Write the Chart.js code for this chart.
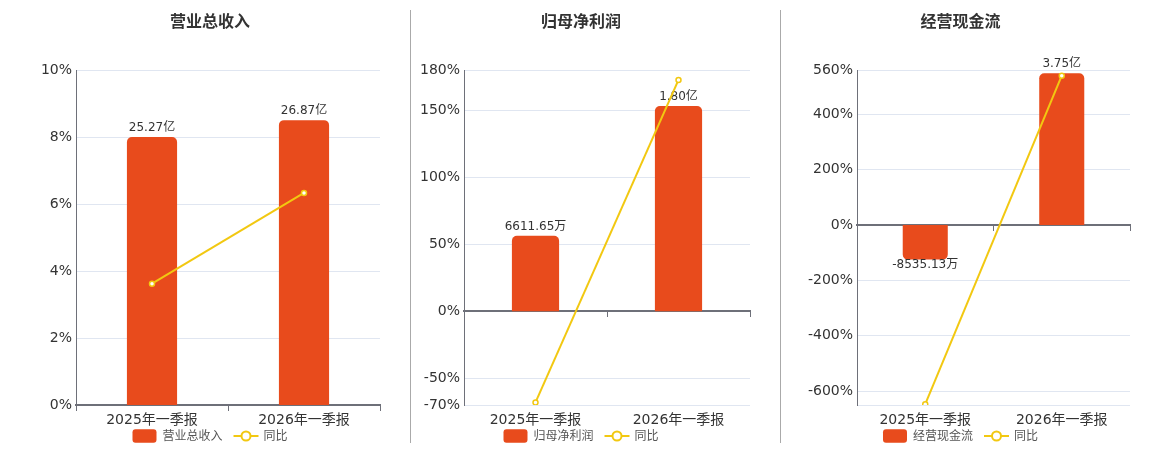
<!DOCTYPE html>
<html>
<head>
    <title>一季报</title>
    <meta charset="UTF-8">
    <script src="https://cdn.jsdelivr.net/npm/chart.js@4.4.1/dist/chart.umd.min.js"></script>
    <style>
        body { margin: 0; background: #fff; }
        #wrap { position: relative; width: 1160px; height: 450px; }
        canvas { position: absolute; top: 0; }
        .sep { position: absolute; top: 10px; width: 1px; height: 433px; background: #aaa; }
    </style>
</head>
<body>
<div id="wrap">
    <canvas id="c1" width="420" height="450" style="left:0px"></canvas>
    <canvas id="c2" width="342" height="450" style="left:410px"></canvas>
    <canvas id="c3" width="361" height="450" style="left:780px"></canvas>
    <div class="sep" style="left:410px"></div>
    <div class="sep" style="left:780px"></div>
</div>
<script>
    // 报告期
    const periods = ['2025年一季报', '2026年一季报'];

    // 营业总收入 (亿) 与同比 (%)
    const revenueValues = [25.27, 26.87];
    const revenueYoy = [3.62, 6.33];
    const revenueTicks = [0, 2, 4, 6, 8, 10];

    // 归母净利润 (亿) 与同比 (%)
    const profitValues = [0.661165, 1.80];
    const profitYoy = [-68.1, 172.6];
    const profitTicks = [-70, -50, 0, 50, 100, 150, 180];

    // 经营现金流 (亿) 与同比 (%)
    const cashValues = [-0.853513, 3.75];
    const cashYoy = [-647, 539.5];
    const cashTicks = [-600, -400, -200, 0, 200, 400, 560];

    const FONT = "'DejaVu Sans', 'Noto Sans CJK SC', sans-serif";
    const BAR = '#e84b1c';
    const LINE = '#f2c811';
    const AXIS = '#6e7079';

    Chart.defaults.font.family = FONT;

    function fmtMoney(v) {
        if (Math.abs(v) >= 1) return v.toFixed(2) + '亿';
        return (v * 10000).toFixed(2) + '万';
    }

    const barLabels = {
        id: 'barLabels',
        afterDatasetDraw(chart, args) {
            if (args.index !== 0) return;
            const ctx = chart.ctx;
            const data = chart.data.datasets[0].data;
            ctx.save();
            ctx.font = '12px ' + FONT;
            ctx.fillStyle = '#333';
            ctx.textAlign = 'center';
            ctx.textBaseline = 'middle';
            args.meta.data.forEach(function (el, i) {
                const v = data[i];
                const y = v >= 0 ? el.y - 9 : el.y + 5;
                ctx.fillText(fmtMoney(v), el.x, y);
            });
            ctx.restore();
        }
    };

    const bottomLegend = {
        id: 'bottomLegend',
        afterDraw(chart) {
            const ctx = chart.ctx;
            const name = chart.data.datasets[0].label;
            const name2 = chart.data.datasets[1].label;
            const y = 436;
            ctx.save();
            ctx.font = '12px ' + FONT;
            const w1 = ctx.measureText(name).width;
            const w2 = ctx.measureText(name2).width;
            const total = 24 + 6 + w1 + 11 + 25 + 5 + w2;
            let x = (chart.width - total) / 2;

            // 柱子图例
            const r = 3, bw = 24, bh = 13.4, by = y - bh / 2;
            ctx.beginPath();
            ctx.moveTo(x + r, by);
            ctx.lineTo(x + bw - r, by);
            ctx.arcTo(x + bw, by, x + bw, by + r, r);
            ctx.lineTo(x + bw, by + bh - r);
            ctx.arcTo(x + bw, by + bh, x + bw - r, by + bh, r);
            ctx.lineTo(x + r, by + bh);
            ctx.arcTo(x, by + bh, x, by + bh - r, r);
            ctx.lineTo(x, by + r);
            ctx.arcTo(x, by, x + r, by, r);
            ctx.closePath();
            ctx.fillStyle = BAR;
            ctx.fill();

            ctx.fillStyle = '#555';
            ctx.textBaseline = 'middle';
            ctx.textAlign = 'left';
            ctx.fillText(name, x + 30, y + 1);

            // 折线图例
            const lx = x + 30 + w1 + 11;
            ctx.strokeStyle = LINE;
            ctx.lineWidth = 2;
            ctx.beginPath();
            ctx.moveTo(lx, y);
            ctx.lineTo(lx + 25, y);
            ctx.stroke();
            ctx.beginPath();
            ctx.arc(lx + 12.5, y, 4.5, 0, Math.PI * 2);
            ctx.fillStyle = '#fff';
            ctx.fill();
            ctx.stroke();

            ctx.fillStyle = '#555';
            ctx.fillText(name2, lx + 30, y + 1);
            ctx.restore();
        }
    };

    function makePanel(id, title, name, values, yoy, tickList, layout) {
        const y1Min = layout.barMax * layout.yMin / layout.yMax;
        new Chart(document.getElementById(id), {
            type: 'bar',
            data: {
                labels: periods,
                datasets: [{
                    type: 'bar',
                    label: name,
                    data: values,
                    yAxisID: 'y1',
                    backgroundColor: BAR,
                    borderRadius: 5,
                    borderSkipped: 'start',
                    barPercentage: 0.33,
                    categoryPercentage: 1,
                    order: 1
                }, {
                    type: 'line',
                    label: '同比',
                    data: yoy,
                    yAxisID: 'y',
                    borderColor: LINE,
                    borderWidth: 2,
                    pointRadius: 2.5,
                    pointBackgroundColor: '#fff',
                    pointBorderColor: LINE,
                    pointBorderWidth: 1.5,
                    tension: 0,
                    fill: false,
                    order: 0
                }]
            },
            options: {
                responsive: false,
                animation: false,
                layout: { autoPadding: false, padding: { left: 0, right: 0, top: 0, bottom: 21 } },
                plugins: {
                    legend: { display: false },
                    tooltip: { enabled: false },
                    title: {
                        display: true,
                        text: title,
                        color: '#333',
                        font: { size: 16, weight: 'bold' },
                        padding: { top: 13, bottom: 37.8 }
                    }
                },
                scales: {
                    x: {
                        position: 'bottom',
                        grid: { display: false, drawTicks: false },
                        border: { display: false },
                        ticks: { color: '#333', font: { size: 14 }, padding: 7 },
                        afterFit: function (s) { s.height = 24; }
                    },
                    x2: {
                        type: 'category',
                        position: { y: 0 },
                        offset: true,
                        grid: { offset: true, drawOnChartArea: false, drawTicks: true, tickLength: 5, color: AXIS, lineWidth: 1 },
                        border: { color: AXIS, width: 2 },
                        ticks: { display: false }
                    },
                    y: {
                        position: 'left',
                        min: layout.yMin,
                        max: layout.yMax,
                        afterBuildTicks: function (s) {
                            const list = tickList.slice();
                            if (list.indexOf(layout.yMin) < 0) list.unshift(layout.yMin);
                            s.ticks = list.map(function (v) { return { value: v }; });
                        },
                        grid: {
                            drawTicks: false,
                            color: function (c) { return c.tick && c.tick.value === 0 ? 'rgba(0,0,0,0)' : '#e0e6f1'; }
                        },
                        border: { color: AXIS, width: 1 },
                        ticks: {
                            color: '#333',
                            font: { size: 14 },
                            padding: 4,
                            callback: function (v) { return tickList.indexOf(v) < 0 ? '' : v + '%'; }
                        },
                        afterFit: function (s) { s.width = layout.leftW; }
                    },
                    y1: {
                        position: 'right',
                        min: y1Min,
                        max: layout.barMax,
                        grid: { display: false, drawTicks: false },
                        border: { display: false },
                        ticks: { display: false },
                        afterFit: function (s) { s.width = layout.rightW; }
                    }
                }
            },
            plugins: [barLabels, bottomLegend]
        });
    }

    makePanel('c1', '营业总收入', '营业总收入', revenueValues, revenueYoy, revenueTicks,
        { yMin: 0, yMax: 10, barMax: 31.6, leftW: 76, rightW: 40 });
    makePanel('c2', '归母净利润', '归母净利润', profitValues, profitYoy, profitTicks,
        { yMin: -70, yMax: 180, barMax: 2.115, leftW: 54, rightW: 2 });
    makePanel('c3', '经营现金流', '经营现金流', cashValues, cashYoy, cashTicks,
        { yMin: -650, yMax: 560, barMax: 3.83, leftW: 77, rightW: 11 });
</script>
</body>
</html>
